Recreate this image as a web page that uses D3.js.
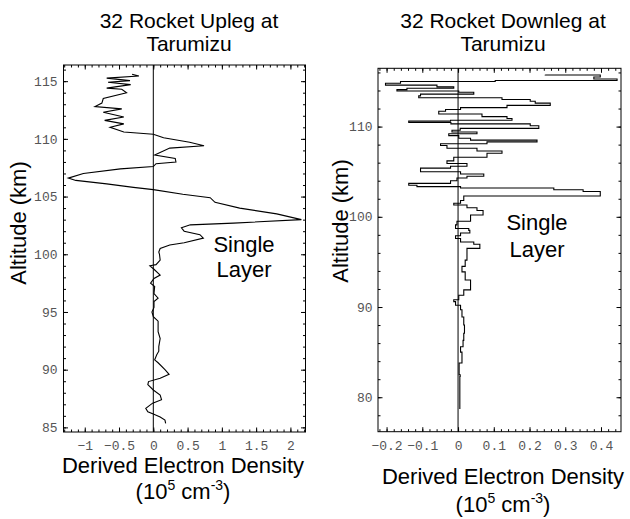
<!DOCTYPE html>
<html><head><meta charset="utf-8">
<script src="https://cdn.jsdelivr.net/npm/d3@7"></script>
<style>
body{margin:0;background:#fff;}
svg{display:block;}
.big{font-family:"Liberation Sans",Arial,sans-serif;font-size:22px;fill:#000;}
.ttl{font-family:"Liberation Sans",Arial,sans-serif;font-size:21px;fill:#000;}
.tick text{font-family:"Liberation Mono","Courier New",monospace;font-size:13px;fill:#555;}
</style>
</head><body>
<svg id="c" width="630" height="519"></svg>
<script>
// ---------- data ----------
const upAlt = [85.35,85.63,85.9,86.16,86.36,86.65,87.1,87.4,87.8,88.24,88.7,88.97,89.26,89.6,90.0,90.6,90.85,91.3,91.6,92.0,92.7,93.3,93.7,94.2,94.6,95.0,95.4,95.9,96.2,96.6,97.2,97.5,97.9,98.2,98.7,99.0,99.1,99.5,100.0,100.2,100.5,100.8,101.0,101.4,101.7,102.0,102.3,102.55,102.7,103.0,103.5,104.0,104.5,104.9,105.2,105.6,105.8,106.1,106.4,106.6,107.0,107.4,107.6,107.85,108.0,108.3,108.6,109.2,109.4,109.7,110.1,110.4,110.6,111.0,111.3,111.6,111.9,112.3,112.6,112.8,113.1,113.5,114.0,114.3,114.4,114.7,114.9,115.05,115.26,115.45,115.6];
const upVal = [0.18,0.17,0.10,0.00,-0.08,-0.11,-0.01,0.12,0.10,0.00,-0.08,-0.07,0.10,0.23,0.17,0.07,0.02,0.05,0.08,0.08,0.10,0.07,0.07,0.07,0.00,-0.02,0.01,0.01,0.07,0.01,0.02,-0.04,0.01,0.10,0.01,-0.05,0.04,0.10,0.09,0.08,0.10,0.24,0.45,0.73,0.68,0.45,0.41,0.54,1.17,2.16,1.80,1.26,0.90,0.83,0.43,0.00,-0.29,-0.68,-1.13,-1.24,-1.02,-0.48,0.00,0.04,0.33,0.32,0.02,0.24,0.74,0.53,0.15,0.00,-0.43,-0.63,-0.43,-0.71,-0.43,-0.73,-0.46,-0.85,-0.75,-0.73,-0.39,-0.46,-0.68,-0.33,-0.66,-0.34,-0.68,-0.21,-0.31];

const downAlt = [78.7,79.6,80.5,82.3,82.5,83.8,84.1,85.0,85.6,85.97,86.3,87.1,88.0,88.9,89.7,90.2,90.6,90.8,91.3,91.9,92.4,93.0,93.9,94.5,95.2,95.95,96.5,96.95,97.2,97.6,97.9,98.2,98.5,98.7,99.1,99.5,100.2,100.7,101.0,101.3,101.5,101.8,102.3,102.8,103.0,103.2,103.35,103.5,103.7,104.0,104.3,104.5,104.75,105.0,105.4,105.6,105.9,106.2,106.6,107.05,107.3,107.6,107.9,108.1,108.3,108.5,108.7,109.0,109.2,109.4,109.6,109.8,110.1,110.3,110.45,110.6,110.7,110.9,111.1,111.4,111.7,111.9,112.1,112.35,112.6,112.8,113.0,113.2,113.4,113.6,113.8,113.95,114.1,114.25,114.4,114.6,114.8,115.0,115.1,115.28,115.5,115.72,115.75];
const downVal = [0.005,0.005,0.005,0.005,0.006,0.003,0.011,0.011,0.007,0.014,0.014,0.016,0.018,0.016,0.011,0.007,-0.007,-0.012,0.002,0.016,0.035,0.035,0.020,0.011,0.020,0.025,0.025,0.061,0.044,0.007,-0.007,0.007,0.033,0.030,-0.007,-0.003,0.035,0.070,0.053,0.025,-0.012,0.007,0.016,0.398,0.35,0.268,0.007,-0.115,-0.138,-0.021,-0.003,0.025,0.072,0.007,-0.105,-0.021,0.025,-0.031,-0.012,0.081,0.123,0.053,-0.031,-0.049,0.081,0.221,0.035,0.002,-0.026,0.053,-0.017,0.006,0.226,0.202,-0.02,-0.138,-0.021,0.151,0.137,0.067,-0.054,-0.035,0.007,0.137,0.258,0.216,0.202,0.123,-0.11,-0.105,0.044,0.002,-0.171,-0.143,-0.012,-0.059,-0.203,-0.161,0.104,0.445,0.38,0.398,0.244];

const upXTicks = [-1,-0.5,0,0.5,1,1.5,2];
const upYTicks = [85,90,95,100,105,110,115];
const downXTicks = [-0.2,-0.1,0,0.1,0.2,0.3,0.4];
const downYTicks = [80,90,100,110];

const titles = [["32 Rocket Upleg at","Tarumizu"],["32 Rocket Downleg at","Tarumizu"]];
const yLabel = "Altitude (km)";
const xLabel1 = "Derived Electron Density";
const annot = ["Single","Layer"];

// ---------- drawing ----------
const svg = d3.select("#c");
const fmt = v => (v<0?"\u2212":"") + String(Math.abs(v));

function panel(o){
  const x = d3.scaleLinear().domain(o.xd).range(o.xr);
  const y = d3.scaleLinear().domain(o.yd).range(o.yr);
  const g = svg.append("g");
  const X0=o.xr[0],X1=o.xr[1],Y0=o.yr[1],Y1=o.yr[0];
  const minorX = d3.range(Math.ceil(o.xd[0]/o.mx)*o.mx, o.xd[1], o.mx).map(v=>+v.toFixed(4));
  const minorY = d3.range(Math.ceil(o.yd[0]/o.my)*o.my, o.yd[1], o.my).map(v=>+v.toFixed(4));
  function ax(gen, scale, pos, tr, vals, size, labels){
    const a = gen(scale).tickValues(vals).tickSizeInner(size).tickSizeOuter(0)
      .tickPadding(labels?o.pad[pos]:0).tickFormat(labels?fmt:"");
    const s = g.append("g").attr("transform",tr).call(a);
    s.select(".domain").remove();
    s.selectAll("line").attr("stroke","#000").attr("stroke-width",1);
  }
  // minor
  ax(d3.axisBottom,x,"b",`translate(0,${Y1})`,minorX,-2.5,false);
  ax(d3.axisTop,x,"t",`translate(0,${Y0})`,minorX,-2.5,false);
  ax(d3.axisLeft,y,"l",`translate(${X0},0)`,minorY,-2.5,false);
  ax(d3.axisRight,y,"r",`translate(${X1},0)`,minorY,-2.5,false);
  // major
  ax(d3.axisBottom,x,"b",`translate(0,${Y1})`,o.xt,-4.5,true);
  ax(d3.axisTop,x,"t",`translate(0,${Y0})`,o.xt,-4.5,false);
  ax(d3.axisLeft,y,"l",`translate(${X0},0)`,o.yt,-4.5,true);
  ax(d3.axisRight,y,"r",`translate(${X1},0)`,o.yt,-4.5,false);
  // frame
  g.append("rect").attr("x",X0).attr("y",Y0).attr("width",X1-X0).attr("height",Y1-Y0)
    .attr("fill","none").attr("stroke","#000").attr("stroke-width",1);
  // zero line
  g.append("line").attr("x1",x(0)).attr("x2",x(0)).attr("y1",Y0).attr("y2",Y1)
    .attr("stroke","#000").attr("stroke-width",1);
  // trace
  const pts = o.alt.map((a,i)=>[o.val[i],a]);
  g.append("path").datum(pts)
    .attr("d", d3.line().x(d=>x(d[0])).y(d=>y(d[1])).curve(o.curve))
    .attr("fill","none").attr("stroke","#000").attr("stroke-width",1.1)
    .attr("stroke-linejoin","miter");
  // titles
  g.append("text").attr("class","ttl").attr("text-anchor","middle")
    .attr("x",o.tx).attr("y",27.5).text(o.title[0]);
  g.append("text").attr("class","ttl").attr("text-anchor","middle")
    .attr("x",o.tx).attr("y",51).text(o.title[1]);
  // y label
  g.append("text").attr("class","big").attr("text-anchor","middle")
    .attr("transform",`translate(${o.ylx},${o.yly}) rotate(-90)`).text(yLabel);
  // x label
  g.append("text").attr("class","big").attr("text-anchor","middle")
    .attr("x",o.xlx).attr("y",o.xly1).text(xLabel1);
  const t2 = g.append("text").attr("class","big").attr("text-anchor","middle")
    .attr("x",o.xlx).attr("y",o.xly2);
  t2.append("tspan").text("(10");
  t2.append("tspan").attr("dy",-9).attr("font-size","14px").text("5");
  t2.append("tspan").attr("dy",9).text(" cm");
  t2.append("tspan").attr("dy",-9).attr("font-size","14px").text("-3");
  t2.append("tspan").attr("dy",9).text(")");
  // annotation
  g.append("text").attr("class","big").attr("text-anchor","middle")
    .attr("x",o.ax).attr("y",o.ay1).text(annot[0]);
  g.append("text").attr("class","big").attr("text-anchor","middle")
    .attr("x",o.ax).attr("y",o.ay2).text(annot[1]);
}

panel({xd:[-1.31,2.22], xr:[63.5,305.5], yd:[84.6,116.4], yr:[432,65],
  xt:upXTicks, yt:upYTicks, mx:0.1, my:1, pad:{b:9,l:6},
  alt:upAlt, val:upVal, curve:d3.curveLinear, title:titles[0], tx:189,
  ylx:26, yly:223, xlx:183, xly1:473, xly2:499, ax:244, ay1:252, ay2:277});

panel({xd:[-0.224,0.456], xr:[378,621], yd:[76.18,116.46], yr:[431.7,68.3],
  xt:downXTicks, yt:downYTicks, mx:0.02, my:2, pad:{b:9,l:5.5},
  alt:downAlt, val:downVal, curve:d3.curveStepAfter, title:titles[1], tx:503,
  ylx:348, yly:221, xlx:503, xly1:484, xly2:512, ax:537, ay1:230, ay2:257});
</script>
</body></html>
